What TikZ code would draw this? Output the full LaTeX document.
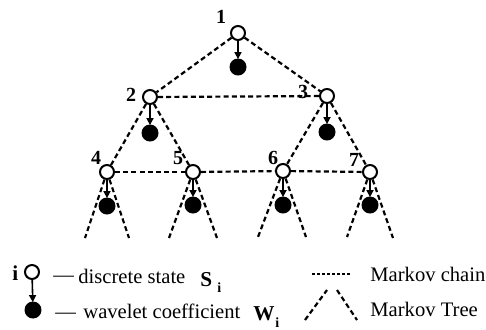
\documentclass[tikz,border=0pt]{standalone}
\usepackage{fontspec}
\setmainfont{Liberation Serif}
\usetikzlibrary{arrows.meta}
\begin{document}
\begin{tikzpicture}[x=0.5pt,y=-0.5pt,
  st/.style={circle,draw,line width=1pt,fill=white,minimum size=7pt,inner sep=0pt},
  wc/.style={circle,fill=black,minimum size=8.5pt,inner sep=0pt},
  mt/.style={line width=1.1pt,dash pattern=on 2.5pt off 1.6pt},
  mc/.style={line width=0.6pt,dash pattern=on 1.5pt off 1pt},
  lab/.style={font=\bfseries\fontsize{10}{11}\selectfont,inner sep=0pt},
  emis/.style={-{Triangle[length=3.5pt,width=3.5pt]},line width=0.8pt,shorten >=-0.5pt},
  txt/.style={font=\fontsize{10.3}{12}\selectfont,anchor=base west,inner sep=0pt},
  btxt/.style={font=\bfseries\fontsize{10.6}{12}\selectfont,anchor=base west,inner sep=0pt},
  stxt/.style={font=\bfseries\fontsize{7}{8}\selectfont,anchor=base west,inner sep=0pt}
]
\useasboundingbox (0,0) rectangle (486,329);

% states
\node[st] (s1) at (238,33) {};
\node[st] (s2) at (150,97) {};
\node[st] (s3) at (327,96) {};
\node[st] (s4) at (107,172) {};
\node[st] (s5) at (193,172) {};
\node[st] (s6) at (283,171) {};
\node[st] (s7) at (370,172) {};
% coefficients
\node[wc] (w1) at (238,67) {};
\node[wc] (w2) at (150,133) {};
\node[wc] (w3) at (327,132) {};
\node[wc] (w4) at (107,206) {};
\node[wc] (w5) at (193,205) {};
\node[wc] (w6) at (283,205) {};
\node[wc] (w7) at (370,205) {};
% labels
\node[lab] (l1) at (221,17) {1};
\node[lab] (l2) at (131,95) {2};
\node[lab] (l3) at (303,92) {3};
\node[lab] (l4) at (96,158) {4};
\node[lab] (l5) at (178,158) {5};
\node[lab] (l6) at (273,158) {6};
\node[lab] (l7) at (354,160) {7};

% emissions
\foreach \i in {1,...,7} \draw[emis] (s\i) -- (w\i);

% Markov tree
\draw[mt] (s1) -- (s2);
\draw[mt] (s1) -- (s3);
\draw[mt] (s2) -- (s4);
\draw[mt] (s2) -- (s5);
\draw[mt] (s3) -- (s6);
\draw[mt] (s3) -- (s7);
% Markov chain
\draw[mt] (s2) -- (s3);
\draw[mt] (s4) -- (s5);
\draw[mt] (s5) -- (s6);
\draw[mt] (s6) -- (s7);

% leaf branches
\coordinate (a4) at (85,238);  \coordinate (b4) at (129,238);
\coordinate (a5) at (169,238); \coordinate (b5) at (217,238);
\coordinate (a6) at (258,237); \coordinate (b6) at (306,237);
\coordinate (a7) at (347,237); \coordinate (b7) at (393,238);
\foreach \i in {4,...,7} {
  \draw[mt] (s\i) -- (a\i);
  \draw[mt] (s\i) -- (b\i);
}

% legend
\node[btxt] (li) at (12,280) {i};
\node[st] (ls) at (32,272) {};
\node[wc] (lw) at (33,310) {};
\draw[emis] (ls) -- (lw);
\node[txt] (d1) at (53,281) {—};
\node[txt] (t1) at (78,283) {discrete state};
\node[btxt] (S) at (200,286) {S};
\node[stxt] (Si) at (217,292) {i};
\node[txt] (d2) at (55,318) {—};
\node[txt] (t2) at (83,318) {wavelet coefficient};
\node[btxt] (W) at (253,320) {W};
\node[stxt] (Wi) at (275,327) {i};

\coordinate (c1) at (312,274); \coordinate (c2) at (350,274);
\draw[mc] (c1) -- (c2);
\node[txt] (t3) at (370,281) {Markov chain};
\coordinate (m1) at (305,320); \coordinate (m2) at (327,290);
\coordinate (m3) at (337,290); \coordinate (m4) at (357,320);
\draw[mt] (m1) -- (m2);
\draw[mt] (m3) -- (m4);
\node[txt] (t4) at (370,316) {Markov Tree};
\end{tikzpicture}
\end{document}
